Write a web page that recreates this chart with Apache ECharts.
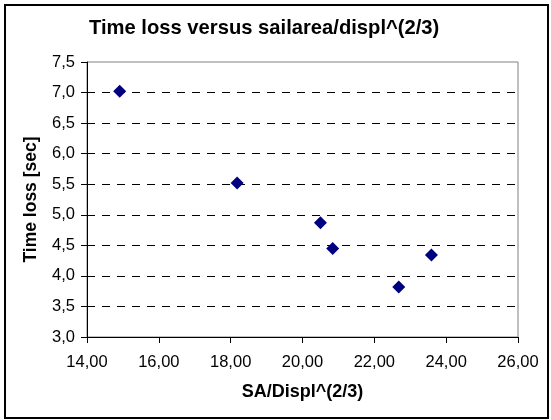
<!DOCTYPE html>
<html>
<head>
<meta charset="utf-8">
<script src="https://cdn.jsdelivr.net/npm/echarts@6/dist/echarts.min.js"></script>
<style>
html,body{margin:0;padding:0;background:#fff;}
#chart{width:551px;height:420px;}
</style>
</head>
<body>
<div id="chart"></div>
<script>
// Data
var saDispl = [14.91, 18.18, 20.50, 20.84, 22.68, 23.59];
var timeLoss = [7.02, 5.52, 4.87, 4.45, 3.82, 4.34];

// Axis ticks
var xTicks = [14, 16, 18, 20, 22, 24, 26];
var yTicks = [3.0, 3.5, 4.0, 4.5, 5.0, 5.5, 6.0, 6.5, 7.0, 7.5];

var titleText = 'Time loss versus sailarea/displ^(2/3)';
var xName = 'SA/Displ^(2/3)';
var yName = 'Time loss [sec]';

var points = saDispl.map(function (x, i) { return [x, timeLoss[i]]; });

var chart = echarts.init(document.getElementById('chart'), null, {renderer: 'canvas'});
var fontFam = '"Liberation Sans", Arial, sans-serif';

chart.setOption({
  animation: false,
  backgroundColor: '#ffffff',
  title: {
    text: titleText,
    left: 89,
    top: 18,
    padding: 0,
    textStyle: {fontFamily: fontFam, fontSize: 20.2, fontWeight: 'bold', color: '#000'}
  },
  grid: {
    left: 87, right: 33, top: 62, bottom: 83,
    show: true, borderColor: '#808080', borderWidth: 1,
    containLabel: false
  },
  xAxis: {
    type: 'value',
    min: xTicks[0], max: xTicks[xTicks.length - 1], interval: xTicks[1] - xTicks[0],
    name: xName,
    nameLocation: 'middle',
    nameGap: 46,
    nameTextStyle: {fontFamily: fontFam, fontSize: 18, fontWeight: 'bold', color: '#000'},
    axisLine: {show: true, lineStyle: {color: '#000', width: 1}},
    axisTick: {show: true, length: 6, lineStyle: {color: '#000'}},
    axisLabel: {
      margin: 17, fontFamily: fontFam, fontSize: 16.5, color: '#000',
      formatter: function (v) { return v.toFixed(2).replace('.', ','); }
    },
    splitLine: {show: false}
  },
  yAxis: {
    type: 'value',
    min: yTicks[0], max: yTicks[yTicks.length - 1], interval: yTicks[1] - yTicks[0],
    name: yName,
    nameLocation: 'middle',
    nameGap: 47,
    nameRotate: 90,
    nameTextStyle: {fontFamily: fontFam, fontSize: 17.5, fontWeight: 'bold', color: '#000'},
    axisLine: {show: true, lineStyle: {color: '#000', width: 1}},
    axisTick: {show: true, length: 6, lineStyle: {color: '#000'}},
    axisLabel: {
      margin: 12, fontFamily: fontFam, fontSize: 16.5, color: '#000',
      formatter: function (v) { return v.toFixed(1).replace('.', ','); }
    },
    splitLine: {
      show: true, showMinLine: false, showMaxLine: false,
      lineStyle: {color: '#000', width: 1, type: [8, 7]}
    }
  },
  graphic: [{
    type: 'rect',
    shape: {x: 5, y: 5, width: 543, height: 413},
    style: {fill: null, stroke: '#000', lineWidth: 2},
    silent: true, z: 100
  }],
  series: [{
    type: 'scatter',
    data: points,
    symbol: 'diamond',
    symbolSize: 13,
    itemStyle: {color: '#000080', opacity: 1}
  }]
});
</script>
</body>
</html>
